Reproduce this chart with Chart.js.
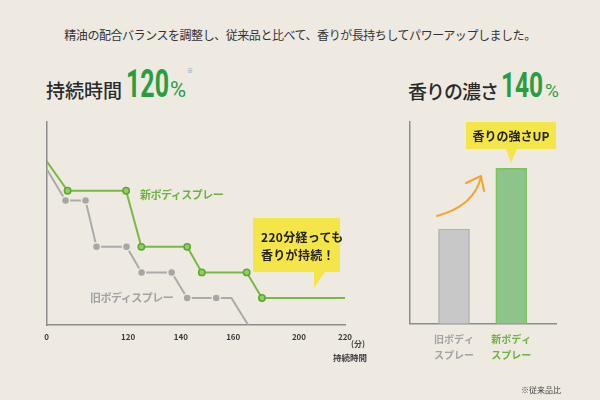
<!DOCTYPE html>
<html lang="ja">
<head>
<meta charset="utf-8">
<script src="https://cdn.jsdelivr.net/npm/chart.js@4"></script>
<style>
  html, body { margin: 0; padding: 0; }
  body {
    width: 600px; height: 400px; overflow: hidden; position: relative;
    background: #eeeae2;
    font-family: "Noto Sans CJK JP", "Noto Sans", sans-serif;
    color: #2a2a2a;
  }
  .t { position: absolute; white-space: nowrap; line-height: 1; }
  .num { font-family: Roboto, sans-serif; font-weight: 700; color: #2a9d3f; transform-origin: left top; }
  #durWrap { position: absolute; left: 0; top: 0; width: 380px; height: 400px; }
  #strWrap { position: absolute; left: 380px; top: 0; width: 220px; height: 400px; }
  svg { position: absolute; left: 0; top: 0; }
  .bubble { font-weight: 700; font-size: 12px; color: #222; letter-spacing: 0.3px; }
</style>
</head>
<body>
<div class="t" style="left:0; width:600px; text-align:center; top:29px; font-size:12px; letter-spacing:-0.45px; color:#333;">精油の配合バランスを調整し、従来品と比べて、香りが長持ちしてパワーアップしました。</div>

<div class="t" style="left:46px; top:80px; font-size:19px; font-weight:500;">持続時間</div>
<div class="t num" style="left:126px; top:65.4px; font-size:39px; transform:scaleX(0.64);">120</div>
<div class="t num" style="left:170px; top:79px; font-size:22px; font-weight:400;">%</div>
<div class="t" style="left:187px; top:68px; font-size:6px; color:#888;">※</div>

<div class="t" style="left:408px; top:80.5px; font-size:19px; font-weight:500; letter-spacing:-1px;">香りの濃さ</div>
<div class="t num" style="left:501px; top:67.8px; font-size:35px; transform:scaleX(0.7);">140</div>
<div class="t num" style="left:545px; top:81px; font-size:19px; font-weight:400;">%</div>

<div id="durWrap"><canvas id="durationChart"></canvas></div>
<div id="strWrap"><canvas id="strengthChart"></canvas></div>

<svg width="600" height="400">
  <path d="M253 218 H340 V272 H325 L314 288 V272 H253 Z" fill="#f4e548"/>
  <path d="M466 122 H556 V149 H517 L511 163 L506 149 H466 Z" fill="#f4e548"/>
  <path d="M437 216 Q474 206 481 177" fill="none" stroke="#f0a531" stroke-width="2" stroke-linecap="round"/>
  <path d="M466 183 L481 176 L484 191" fill="none" stroke="#f0a531" stroke-width="2" stroke-linecap="round" stroke-linejoin="round"/>
</svg>

<div class="t bubble" style="left:261px; top:231px;">220分経っても</div>
<div class="t bubble" style="left:261px; top:249px;">香りが持続！</div>
<div class="t bubble" style="left:466px; top:130px; width:90px; text-align:center; letter-spacing:0;">香りの強さUP</div>

<div class="t" style="left:140px; top:188.5px; font-size:11px; font-weight:700; color:#6cb33f; letter-spacing:-0.5px;">新ボディスプレー</div>
<div class="t" style="left:90px; top:292px; font-size:11px; font-weight:700; color:#a3a3a3; letter-spacing:-0.5px;">旧ボディスプレー</div>

<div class="t" style="left:351px; top:340px; font-size:8px; font-weight:700; color:#444;">(分)</div>
<div class="t" style="left:333px; top:353px; font-size:8.5px; font-weight:700; color:#444;">持続時間</div>
<div class="t" style="left:521px; top:386px; font-size:8px; color:#444;">※従来品比</div>

<script>
// duration chart: minutes on x, remaining scent level on y
const xTickLabels = [0, 120, 140, 160, 200, 220];
const newMinutes = [0, 31, 117, 125, 142.4, 148, 168.2, 177.5, 220];
const newLevel = [80.8, 66.1, 66.1, 38.5, 38.5, 25.9, 25.9, 13.3, 13.3];
const oldMinutes = [0, 28, 57.4, 73.5, 117.6, 125.1, 136.5, 142.4, 153.5, 159.3, 169.1];
const oldLevel = [77, 61.3, 61.3, 38.5, 38.5, 25.9, 25.9, 13.3, 13.3, 13.3, 0];

// strength chart
const barLabels = [['旧ボディ', 'スプレー'], ['新ボディ', 'スプレー']];
const barValues = [100, 164];

// the drawn x axis is not even: pixel width of each gap between ticks
const xGapWidths = [81.6, 52.7, 52.3, 65.7, 46];

const BG = '#eeeae2';
const AXIS = '#8c8c8c';
const GREEN = '#76b943';
const GRAY = '#aaaaaa';

function stretchDecimal(v) {
    const total = xGapWidths.reduce((a, b) => a + b, 0);
    let acc = 0;
    for (let i = 0; i < xGapWidths.length; i++) {
        const a = xTickLabels[i], b = xTickLabels[i + 1];
        if (v <= b || i === xGapWidths.length - 1) {
            return (acc + (v - a) / (b - a) * xGapWidths[i]) / total;
        }
        acc += xGapWidths[i];
    }
}

class StretchScale extends Chart.LinearScale {
    getPixelForValue(value) {
        if (value === null || value === undefined || isNaN(value)) return NaN;
        return this.getPixelForDecimal(stretchDecimal(value));
    }
    getValueForPixel(pixel) {
        const d = this.getDecimalForPixel(pixel);
        const total = xGapWidths.reduce((a, b) => a + b, 0);
        let acc = 0;
        for (let i = 0; i < xGapWidths.length; i++) {
            const w = xGapWidths[i] / total;
            if (d <= acc + w || i === xGapWidths.length - 1) {
                return xTickLabels[i] + (d - acc) / w * (xTickLabels[i + 1] - xTickLabels[i]);
            }
            acc += w;
        }
    }
}
StretchScale.id = 'stretch';
StretchScale.defaults = Chart.LinearScale.defaults;
Chart.register(StretchScale);

Chart.defaults.font.family = '"Noto Sans CJK JP", "Noto Sans", sans-serif';
Chart.defaults.animation = false;

const toPoints = (xs, ys) => xs.map((x, i) => ({ x: x, y: ys[i] }));

new Chart(document.getElementById('durationChart'), {
    type: 'line',
    data: {
        datasets: [{
            label: '新ボディスプレー',
            data: toPoints(newMinutes, newLevel),
            borderColor: GREEN,
            borderWidth: 2,
            pointRadius: [0, 3.2, 3.2, 3.2, 3.2, 3.2, 3.2, 3.2, 0],
            pointBackgroundColor: '#8fd05e',
            pointBorderColor: '#5aa832',
            pointBorderWidth: 1.5,
            tension: 0
        }, {
            label: '旧ボディスプレー',
            data: toPoints(oldMinutes, oldLevel),
            borderColor: GRAY,
            borderWidth: 2,
            pointRadius: [0, 4, 4, 4, 4, 4, 4, 4, 4, 0, 0],
            pointBackgroundColor: '#a6a6a6',
            pointBorderColor: BG,
            pointBorderWidth: 1.5,
            tension: 0
        }]
    },
    options: {
        responsive: true,
        maintainAspectRatio: false,
        layout: { padding: { left: 46.5, top: 122, right: 35, bottom: 51.4 } },
        scales: {
            x: {
                type: 'stretch',
                min: 0,
                max: 220,
                bounds: 'data',
                afterBuildTicks: (s) => { s.ticks = xTickLabels.map(v => ({ value: v })); },
                grid: { display: false, drawTicks: false },
                border: { color: AXIS, width: 1.5 },
                ticks: {
                    autoSkip: false,
                    maxRotation: 0,
                    padding: 7,
                    color: '#3a3a3a',
                    font: { size: 8, weight: 'bold' }
                }
            },
            y: {
                min: 0,
                max: 100,
                bounds: 'data',
                grid: { display: false, drawTicks: false },
                border: { color: AXIS, width: 1.5 },
                ticks: { display: false }
            }
        },
        plugins: {
            legend: { display: false },
            tooltip: { enabled: false }
        }
    }
});

new Chart(document.getElementById('strengthChart'), {
    type: 'bar',
    data: {
        datasets: [{
            label: '香りの濃さ',
            data: barValues.map((v, i) => ({ x: i, y: v })),
            backgroundColor: ['#c8c8c8', '#8cc48a'],
            borderColor: ['#b3b3b3', '#7cc35a'],
            borderWidth: 1.5,
            borderSkipped: 'bottom',
            barThickness: 31
        }]
    },
    options: {
        responsive: true,
        maintainAspectRatio: false,
        layout: { padding: { left: 29.3, top: 122, right: 44, bottom: 28.3 } },
        scales: {
            x: {
                type: 'linear',
                min: -0.78,
                max: 1.78,
                offset: false,
                bounds: 'data',
                afterBuildTicks: (s) => { s.ticks = barLabels.map((l, i) => ({ value: i })); },
                grid: { display: false, drawTicks: false },
                border: { color: AXIS, width: 1.5 },
                ticks: {
                    autoSkip: false,
                    maxRotation: 0,
                    padding: 8,
                    callback: (value) => barLabels[value],
                    color: (ctx) => ctx.index === 0 ? '#a3a3a3' : '#6cb33f',
                    font: { size: 10, weight: 'bold', lineHeight: 1.6 }
                }
            },
            y: {
                min: 0,
                max: 213,
                bounds: 'data',
                grid: { display: false, drawTicks: false },
                border: { color: AXIS, width: 1.5 },
                ticks: { display: false }
            }
        },
        plugins: {
            legend: { display: false },
            tooltip: { enabled: false }
        }
    }
});
</script>
</body>
</html>
